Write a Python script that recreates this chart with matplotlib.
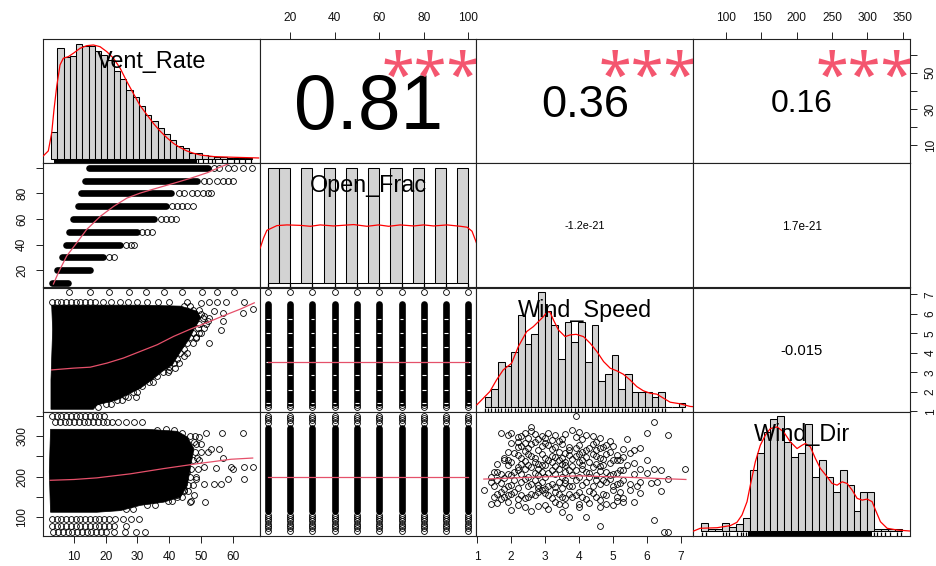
"""Scatterplot matrix (chart.Correlation style): ventilation rate vs. opening and wind."""
import matplotlib
matplotlib.use("Agg")
import matplotlib.pyplot as plt
from matplotlib.textpath import TextPath
from matplotlib.font_manager import FontProperties

plt.rcParams["font.family"] = ["Liberation Sans", "DejaVu Sans"]

# ---------------- data ----------------
var_names = ["Vent_Rate", "Open_Frac", "Wind_Speed", "Wind_Dir"]
var_min = [2.75, 10.0, 1.22, 64.7]
var_max = [66.0, 100.0, 7.12, 349.0]

axis_ticks = [[10, 20, 30, 40, 50, 60], [20, 40, 60, 80, 100],
              [1, 2, 3, 4, 5, 6, 7], [100, 150, 200, 250, 300, 350]]
# labels kept on the vertical (left / right) axes
vert_labels = [["10", "", "30", "", "50", ""], ["20", "40", "60", "80", ""],
               ["1", "2", "3", "4", "5", "6", "7"], ["100", "", "200", "", "300", ""]]

# upper panels: correlation and significance
cor_cells = [(0, 1), (0, 2), (0, 3), (1, 2), (1, 3), (2, 3)]
cor_r = [0.81, 0.36, 0.16, -1.2e-21, 1.7e-21, -0.015]
cor_txt = ["0.81", "0.36", "0.16", "-1.2e-21", "1.7e-21", "-0.015"]
cor_sig = ["***", "***", "***", "", "", ""]

# diagonal: histograms (density relative to the tallest bar)
vr_bins = (2.0, 2.0)
vr_hist = [0.23, 0.96, 0.88, 0.89, 1.00, 0.98, 0.98, 0.94, 0.90, 0.86, 0.76, 0.69, 0.60, 0.54,
           0.46, 0.38, 0.33, 0.27, 0.21, 0.16, 0.11, 0.09, 0.053, 0.047, 0.032, 0.023, 0.018,
           0.010, 0.006, 0.004, 0.003, 0.002]
of_bins = (10.0, 5.0)
of_hist = [1, 1, 0, 1, 0, 1, 0, 1, 0, 1, 0, 1, 0, 1, 0, 1, 0, 1]
ws_bins = (1.2, 0.2)
ws_hist = [0.09, 0.16, 0.39, 0.36, 0.48, 0.80, 0.55, 0.64, 1.00, 0.84, 0.71, 0.42, 0.74, 0.57,
           0.74, 0.39, 0.71, 0.23, 0.29, 0.45, 0.16, 0.29, 0.13, 0.13, 0.13, 0.09, 0.13, 0, 0, 0.035]
wd_bins = (60.0, 10.0)
wd_hist = [0.07, 0.02, 0.02, 0.07, 0.035, 0.064, 0.12, 0.53, 0.68, 0.86, 0.98, 1.0, 0.78, 0.65,
           0.68, 0.93, 0.47, 0.62, 0.47, 0.34, 0.53, 0.40, 0.18, 0.34, 0.34, 0.02, 0.02, 0.02, 0.02]

# kernel density curves
vr_dens_x = [-0.46, 1.13, 2.22, 2.95, 3.81, 4.87, 5.93, 7.53, 9.12, 11.25, 13.39, 15.52, 17.64,
             19.78, 21.91, 24.04, 26.17, 28.29, 30.41, 32.55, 34.66, 36.80, 38.94, 41.04, 43.18,
             45.32, 47.43, 49.57, 53.81, 60.2, 68.2]
vr_dens_y = [0.024, 0.067, 0.225, 0.427, 0.628, 0.815, 0.873, 0.887, 0.916, 0.959, 0.982, 0.988,
             0.973, 0.930, 0.873, 0.786, 0.671, 0.565, 0.461, 0.383, 0.306, 0.239, 0.182, 0.133,
             0.096, 0.067, 0.047, 0.032, 0.018, 0.012, 0.006]
of_dens_x = [6.6, 8.1, 9.6, 11.9, 14.1, 18.6, 24.6, 29.1, 33.5, 39.5, 48.5, 54.5, 59.7, 64.2,
             69.4, 75.4, 79.9, 84.4, 90.4, 96.4, 99.4, 101.6, 103.6]
of_dens_y = [0.303, 0.390, 0.457, 0.478, 0.498, 0.504, 0.500, 0.492, 0.504, 0.495, 0.507, 0.492,
             0.504, 0.492, 0.504, 0.495, 0.504, 0.495, 0.504, 0.492, 0.484, 0.449, 0.347]
ws_dens_x = [0.97, 1.36, 1.56, 1.76, 2.01, 2.21, 2.46, 2.66, 2.81, 2.96, 3.08, 3.16, 3.26, 3.41,
             3.61, 3.76, 3.94, 4.16, 4.36, 4.56, 4.76, 4.96, 5.16, 5.35, 5.55, 5.75, 5.95, 6.15,
             6.35, 6.55, 6.75, 7.05, 7.35, 7.65]
ws_dens_y = [0.020, 0.136, 0.237, 0.324, 0.382, 0.526, 0.657, 0.700, 0.743, 0.787, 0.830, 0.824,
             0.758, 0.671, 0.613, 0.628, 0.633, 0.613, 0.555, 0.483, 0.396, 0.338, 0.315, 0.286,
             0.237, 0.179, 0.142, 0.121, 0.113, 0.078, 0.043, 0.029, 0.006, 0.0]
wd_dens_x = [48.8, 58.5, 82.7, 101.9, 111.6, 118.8, 126.1, 130.9, 138.1, 145.3, 152.5, 159.8,
             169.5, 179.0, 188.7, 198.4, 205.6, 210.4, 217.6, 224.9, 232.1, 241.8, 249.0, 256.3,
             263.5, 270.7, 278.0, 285.2, 292.4, 299.7, 306.9, 311.7, 318.9, 328.6, 343.1, 362.3]
wd_dens_y = [0.003, 0.027, 0.032, 0.05, 0.079, 0.142, 0.258, 0.402, 0.605, 0.749, 0.836, 0.894,
             0.908, 0.865, 0.778, 0.720, 0.749, 0.764, 0.735, 0.634, 0.547, 0.475, 0.417, 0.402,
             0.431, 0.417, 0.359, 0.287, 0.272, 0.281, 0.258, 0.186, 0.084, 0.027, 0.012, 0.003]

# rugs: solid runs (lo, hi) and single ticks
vr_rug_runs = [(2.8, 48.6)]
vr_rug = [49.0, 50.6, 52.2, 53.3, 54.4, 56.5, 58.1, 60.2, 61.8, 63.9, 65.9]
of_rug_runs = []
of_rug = [10, 20, 30, 40, 50, 60, 70, 80, 90, 100]
ws_rug_runs = []
ws_rug = [1.2, 1.3, 1.4, 1.5, 1.6, 1.7, 1.8, 1.9, 2.0, 2.1, 2.2, 2.3, 2.4, 2.5, 2.6, 2.7, 2.8,
          2.9, 3.0, 3.1, 3.2, 3.3, 3.4, 3.5, 3.6, 3.7, 3.8, 3.9, 4.0, 4.1, 4.2, 4.3, 4.4, 4.5,
          4.6, 4.7, 4.8, 4.9, 5.0, 5.1, 5.2, 5.3, 5.4, 5.5, 5.6, 5.7, 5.8, 5.9, 6.0, 6.1, 6.2,
          6.3, 6.4, 6.5, 6.6, 7.1]
wd_rug_runs = [(128, 306)]
wd_rug = [61, 67, 92, 96, 100, 112, 117, 121, 125, 309, 314, 320, 325, 333, 343, 349]

# lower panel (2,1): Open_Frac levels, solid run of Vent_Rate, sparse outliers
of_levels = [10, 20, 30, 40, 50, 60, 70, 80, 90, 100]
band_lo = [2.95, 4.5, 6.1, 7.5, 8.5, 9.8, 11.1, 12.1, 13.3, 14.6]
band_hi = [8.0, 15.1, 19.1, 24.6, 29.9, 35.2, 38.9, 40.7, 48.9, 52.1]
band_out = [[], [], [21.1, 22.5], [26.5, 28.0, 29.0], [31.5, 33.0, 34.6],
            [37.5, 39.1, 40.7, 42.0], [41.0, 42.3, 44.1, 45.7, 47.6],
            [43.1, 44.7, 47.3, 48.9, 50.5, 52.1, 53.3],
            [51.0, 52.6, 55.0, 56.8, 58.4, 60.0],
            [54.2, 55.7, 58.4, 60.5, 63.1, 66.0]]
smooth21_x = [3.5, 5.1, 7.7, 10.9, 14.0, 18.3, 22.5, 26.7, 30.9, 36.2, 41.5, 46.8, 52.1, 56.3, 60.5]
smooth21_y = [9.1, 18.2, 31.1, 41.5, 51.8, 62.1, 69.9, 76.4, 80.3, 84.2, 88.0, 91.9, 96.3, 100.9, 104.8]

# lower panel (3,1): dense cloud outline, top row, points around its edge
cloud31_x = [2.95, 17.2, 30.9, 43.6, 48.8, 49.9, 47.8, 46.2, 44.7, 42.6, 41.0, 37.8, 34.6, 30.9,
             26.7, 23.5, 17.2, 16.1, 2.73, 2.73, 3.26]
cloud31_y = [6.45, 6.45, 6.45, 6.40, 6.14, 5.80, 5.20, 4.68, 4.34, 3.82, 3.39, 3.05, 2.62, 2.19,
             1.85, 1.59, 1.33, 1.11, 1.11, 2.62, 5.20]
row31_ws = 6.6
row31_vr = [3.0, 4.5, 6.0, 7.5, 9.0, 10.5, 12.0, 13.5, 15.0, 16.5, 19.0, 21.5, 24.5, 27.0,
            30.0, 33.0, 36.5, 40.0]
pts31_x = [8.5, 14.9, 21.0, 27.2, 32.6, 38.3, 44.1, 50.3, 54.9, 60.3,
           45.7, 49.9, 52.6, 55.2, 57.9, 63.7, 66.3, 63.2, 56.8, 54.2, 56.8, 56.3, 52.1, 51.0,
           52.6, 49.9, 48.4, 44.7, 41.8, 39.9, 29.4, 26.9,
           44.5, 46.5, 47.5, 49.5, 50.0, 50.5, 52.5, 49.5, 51.5, 49.0, 51.0, 47.5, 49.5, 46.5,
           48.5, 45.5, 47.5, 44.5, 43.5, 45.5, 42.5, 41.5, 43.0, 40.0, 38.0, 39.5, 36.0, 33.5,
           35.0, 31.5, 28.5, 30.0, 26.0, 23.5, 25.0, 20.0, 21.5, 17.5]
pts31_y = [7.1, 7.1, 7.1, 7.1, 7.1, 7.1, 7.1, 7.1, 7.1, 7.1,
           6.60, 6.54, 6.60, 6.60, 6.60, 6.60, 6.23, 6.05, 6.05, 6.14, 5.63, 5.20, 5.63, 5.88,
           4.51, 5.02, 4.77, 3.82, 3.22, 3.13, 1.73, 1.73,
           6.4, 6.4, 6.2, 6.2, 6.0, 5.8, 5.8, 5.5, 5.5, 5.3, 5.3, 5.0, 5.0, 4.8,
           4.8, 4.5, 4.5, 4.2, 4.0, 4.0, 3.7, 3.5, 3.5, 3.3, 3.0, 3.0, 2.8, 2.5,
           2.5, 2.3, 2.0, 2.0, 1.8, 1.6, 1.6, 1.4, 1.4, 1.25]
smooth31_x = [2.95, 9.8, 15.1, 20.4, 25.6, 30.9, 36.2, 41.4, 46.8, 52.1, 57.3, 62.6, 66.8]
smooth31_y = [3.13, 3.22, 3.27, 3.48, 3.74, 4.08, 4.42, 4.85, 5.23, 5.57, 5.92, 6.26, 6.57]

# lower panel (4,1): dense cloud outline, rows of points, isolated points
cloud41_x = [2.6, 33.0, 42.6, 45.7, 47.8, 46.8, 45.7, 43.6, 38.3, 30.9, 24.6, 17.2, 2.6, 2.2]
cloud41_y = [317, 317, 312, 298, 269, 228, 178, 150, 137, 129, 116, 112, 112, 212]
row41_wd = [350, 336, 96, 78, 63]
row41_vr = [[3.0, 4.5, 6.0, 7.5, 9.0, 10.5, 12.0, 13.5, 15.0, 16.5, 18.0, 19.5],
            [4.0, 5.5, 7.0, 8.5, 10.0, 11.5, 13.0, 14.5, 16.0, 17.5, 19.0, 20.5, 22.0, 24.0,
             26.5, 29.0, 31.5],
            [3.0, 4.5, 6.0, 7.5, 9.0, 10.5, 12.0, 13.5, 15.0, 16.5, 18.0, 19.5, 21.0, 23.0,
             25.5, 28.0, 30.5],
            [3.0, 4.5, 6.0, 7.5, 9.0, 10.5, 12.0, 13.5, 15.0, 16.5, 18.0, 19.5, 21.0, 22.5, 26.5],
            [3.5, 5.0, 6.5, 8.0, 9.5, 11.0, 12.5, 14.0, 15.5, 17.0, 18.5, 20.0, 22.5, 26.0,
             29.5, 32.5]]
pts41_x = [51.5, 56.5, 63.1, 55.8, 53.1, 52.1, 56.8, 51.0, 54.7, 59.5, 63.7, 66.3, 60.0, 58.4,
           63.7, 56.3, 51.0, 47.8, 46.6, 51.2, 44.7, 42.6, 39.4, 48.4, 45.7, 48.9, 44.1, 47.8,
           49.4, 44.1, 41.5, 38.9, 36.2, 54.2, 47.0,
           46.5, 48.0, 48.5, 50.0, 48.0, 50.0, 47.5, 49.5, 47.0, 49.0, 46.5, 48.5, 46.0, 47.5,
           44.5, 46.0, 42.5, 44.0, 39.5, 41.0, 33.0, 35.5, 26.5, 28.5]
pts41_y = [307, 307, 307, 269, 269, 261, 245, 224, 221, 224, 224, 224, 220, 195,
           195, 183, 183, 154, 137, 137, 166, 154, 174, 195, 212, 245, 261, 286,
           298, 309, 315, 317, 315, 183, 139,
           300, 300, 280, 280, 260, 260, 240, 240, 220, 220, 200, 200, 180, 180,
           165, 165, 150, 150, 140, 140, 130, 130, 120, 120]
smooth41_x = [2.5, 10.0, 17.2, 27.8, 38.3, 48.9, 59.5, 66.3]
smooth41_y = [191, 193, 197, 207, 220, 232, 243, 246]

# lower panels (3,2) and (4,2): one column of points per Open_Frac level
col32_run = (1.45, 6.5)
col32_pts = [7.1, 1.33, 1.22]
col32_gaps = [5.76, 5.03, 4.30, 3.56, 2.87, 2.10, 1.42]
smooth32 = 3.53
col42_run = (116, 319)
col42_pts = [349, 345, 339, 333, 104, 100, 96, 90, 84, 78, 72, 66]
smooth42 = 199

# lower panel (4,3): Wind_Speed vs Wind_Dir
pts43_ws = [3.9, 6.2, 2.6, 1.7, 2.0, 1.9, 2.4, 2.6, 2.9, 3.1, 3.2, 3.4, 3.8, 3.9, 4.2, 4.4, 4.5,
            4.8, 5.0, 5.4, 6.0, 6.6,
            2.2, 2.2, 2.2, 2.4, 2.7, 3.0, 3.1, 3.3, 3.7, 3.7, 4.2, 4.5, 4.7, 4.8, 5.1, 5.2, 5.6, 5.8,
            1.8, 1.8, 1.9, 2.2, 2.5, 2.7, 2.8, 3.1, 3.3, 3.5, 3.7, 4.0, 4.0, 4.2, 4.3, 4.6, 5.0,
            5.1, 5.6,
            1.5, 1.6, 1.7, 1.9, 2.2, 2.2, 2.4, 2.5, 2.8, 2.9, 2.9, 3.2, 3.4, 3.6, 3.7, 3.9, 4.1,
            4.2, 4.4, 4.7, 4.8, 5.0, 5.2, 5.3, 5.8, 6.2, 6.4, 7.1,
            1.2, 1.4, 1.6, 1.7, 1.8, 1.9, 2.1, 2.3, 2.4, 2.6, 2.7, 2.9, 3.0, 3.1, 3.3, 3.4, 3.6,
            3.7, 3.9, 4.2, 4.3, 4.5, 4.7, 4.8, 4.9, 5.1, 5.3, 5.5, 5.8, 6.6, 6.3,
            1.5, 1.6, 1.7, 1.7, 1.9, 2.0, 2.2, 2.3, 2.5, 2.6, 2.8, 2.9, 3.1, 3.3, 3.5, 3.7, 3.8,
            4.0, 4.2, 4.4, 4.5, 4.6, 4.8, 5.0, 5.1, 5.2, 5.5,
            1.4, 1.9, 2.4, 2.6, 3.0, 3.1, 3.4, 3.7, 4.2, 4.6, 3.3, 4.0, 4.0, 4.8, 5.1, 5.3, 5.6,
            6.4, 6.2, 6.5, 6.6,
            2.3, 2.5, 2.7, 2.8, 3.0, 3.3, 3.5, 3.6, 4.0, 4.1, 4.6, 4.9,
            2.0, 2.3, 2.5, 2.6, 2.8, 2.9, 3.2, 3.4, 3.5, 3.9, 4.0, 4.1, 4.3, 4.4, 4.6, 4.9, 5.3,
            1.9, 2.1, 2.3, 2.4, 2.6, 2.9, 3.0, 3.2, 3.4, 3.6, 3.8, 3.9, 4.1, 4.4, 4.5, 4.7, 5.3, 5.5,
            1.6, 1.9, 2.0, 2.3, 2.4, 2.6, 2.7, 3.0, 3.2, 3.3, 3.5, 3.6, 3.8, 4.1, 4.5, 4.6, 4.9,
            5.4, 6.0,
            1.4, 1.8, 2.0, 2.1, 2.3, 2.5, 2.7, 2.8, 3.0, 3.1, 3.3, 3.5, 3.6, 3.8, 4.0, 4.3, 4.5,
            4.6, 4.9, 5.1, 5.6, 6.0,
            1.5, 2.0, 2.2, 2.5, 2.8, 2.8, 3.2, 3.5, 3.6, 3.8, 4.1, 4.4, 4.6, 5.0, 5.2, 5.7, 6.1,
            1.8, 2.1, 2.4, 2.7, 3.0, 3.2, 3.4, 3.6, 3.9, 4.1, 4.3, 4.7, 5.3, 5.8,
            1.6, 2.2, 2.8, 3.6, 4.3, 4.6, 5.0, 2.0, 3.5]
pts43_wd = [350, 335, 323, 308, 308, 302, 307, 313, 300, 307, 290, 288, 316, 298, 304, 300, 286,
            279, 275, 292, 307, 304,
            298, 286, 274, 282, 286, 282, 278, 274, 274, 265, 265, 265, 274, 257, 253, 240, 267, 271,
            245, 240, 240, 253, 257, 245, 232, 240, 249, 245, 253, 257, 236, 249, 236, 245, 240,
            240, 234,
            211, 211, 206, 207, 224, 216, 220, 228, 220, 211, 228, 216, 220, 228, 216, 216, 220,
            211, 224, 228, 211, 207, 216, 217, 220, 220, 216, 220,
            168, 187, 191, 184, 170, 178, 192, 187, 195, 182, 191, 187, 170, 178, 174, 187, 191,
            178, 191, 187, 199, 191, 192, 187, 195, 182, 191, 182, 187, 195, 187,
            150, 158, 162, 144, 154, 158, 145, 154, 150, 158, 162, 166, 154, 162, 150, 158, 150,
            162, 145, 159, 150, 143, 154, 166, 150, 162, 166,
            133, 137, 125, 116, 129, 120, 133, 100, 100, 77, 137, 133, 125, 133, 141, 137, 137,
            164, 93, 64, 64,
            300, 296, 305, 292, 296, 302, 294, 305, 310, 292, 296, 288,
            284, 276, 270, 280, 266, 276, 268, 262, 280, 270, 279, 262, 272, 281, 270, 262, 268,
            262, 258, 246, 264, 250, 256, 246, 252, 240, 258, 244, 250, 242, 256, 250, 244, 249, 258,
            232, 228, 236, 232, 238, 224, 236, 230, 236, 226, 232, 236, 226, 230, 232, 226, 233,
            228, 240,
            200, 196, 204, 212, 206, 200, 210, 204, 200, 210, 206, 198, 212, 204, 198, 208, 204,
            214, 203, 208, 206, 210,
            176, 180, 172, 176, 180, 172, 182, 172, 184, 176, 180, 176, 182, 176, 184, 176, 184,
            150, 162, 146, 154, 160, 146, 156, 146, 154, 150, 164, 158, 146, 160,
            136, 130, 128, 130, 136, 124, 130, 118, 112]
smooth43_x = [1.2, 2.75, 4.02, 5.2, 6.18, 7.14]
smooth43_y = [194, 199, 202, 199, 196, 193]

# ---------------- layout ----------------
FIG_W, FIG_H = 936, 566
LEFT, TOP, PW, PH = 43, 39, 216.75, 124.25
STAR_INK_H, STAR_ASPECT = 26.7, 3.4      # ink height (px) and width/height of "***"
SMOOTH_COL = "#E5506A"
STAR_COL = "#F4566F"
PT_KW = dict(linestyle="none", marker="o", ms=4.2, mfc="none", mec="black", mew=0.6)

fig = plt.figure(figsize=(FIG_W / 100, FIG_H / 100), dpi=100)
renderer = fig.canvas.get_renderer()


def rng(k):
    pad = 0.04 * (var_max[k] - var_min[k])
    return var_min[k] - pad, var_max[k] + pad


def text_width(s, size):
    t = fig.text(0, 0, s, fontsize=size)
    w = t.get_window_extent(renderer).width
    t.remove()
    return w


def ink_box(s, family):
    return TextPath((0, 0), s, size=1, prop=FontProperties(family=family)).get_extents()


def centered_text(ax, x, y, s, size, ink_mid, **kw):
    # place so that the middle of the glyphs (not the line box) sits at (x, y)
    ax.annotate(s, xy=(x, y), xycoords="axes fraction", xytext=(0, -ink_mid * size),
                textcoords="offset points", ha="center", va="baseline", fontsize=size,
                annotation_clip=False, clip_on=True, **kw)


def hist_panel(ax, bins, heights, dx, dy, runs, rug, label):
    start, width = bins
    edges = [start + width * k for k in range(len(heights) + 1)]
    ax.bar(edges[:-1], heights, width=width, align="edge", color="#D3D3D3",
           edgecolor="black", linewidth=0.75, zorder=2)
    pad = 0.04 * (edges[-1] - edges[0])
    ax.set_xlim(edges[0] - pad, edges[-1] + pad)
    ax.set_ylim(-0.04, 1.04)
    ax.plot(dx, dy, color="red", lw=0.9, zorder=3)
    tr = ax.get_xaxis_transform()
    for lo, hi in runs:
        ax.fill_between([lo, hi], [0, 0], [0.033, 0.033], transform=tr, color="black", lw=0, zorder=3)
    ax.vlines(rug, 0, 0.033, transform=tr, color="black", lw=0.9, zorder=3)
    centered_text(ax, 0.5, 0.833, label, 16.8, 0.36, zorder=5)


axes = [[None] * 4 for _ in range(4)]
for i in range(4):
    for j in range(4):
        ax = fig.add_axes([(LEFT + j * PW) / FIG_W, 1 - (TOP + (i + 1) * PH) / FIG_H,
                           PW / FIG_W, PH / FIG_H])
        for sp in ax.spines.values():
            sp.set_linewidth(0.8)
            sp.set_color("#222222")
        ax.tick_params(bottom=False, left=False, labelbottom=False, labelleft=False)
        if i != j:
            ax.set_xlim(*rng(j))
            ax.set_ylim(*rng(i))
        axes[i][j] = ax

tick_kw = dict(length=5.2, width=0.7, color="#222222", labelsize=8.6, labelcolor="#111111", pad=5.5)
for j in (1, 3):
    ax = axes[0][j]
    ax.tick_params(axis="x", top=True, labeltop=True, **tick_kw)
    ax.set_xticks(axis_ticks[j])
for j in (0, 2):
    ax = axes[3][j]
    ax.tick_params(axis="x", bottom=True, labelbottom=True, **tick_kw)
    ax.set_xticks(axis_ticks[j])
for i in (1, 3):
    ax = axes[i][0]
    ax.tick_params(axis="y", left=True, labelleft=True, labelrotation=90, **tick_kw)
    ax.set_yticks(axis_ticks[i], vert_labels[i], va="center")
for i in (0, 2):
    ax = axes[i][3]
    ax.tick_params(axis="y", right=True, labelright=True, labelrotation=90, **tick_kw)
    ax.set_yticks(axis_ticks[i], vert_labels[i], va="center")

# diagonal
hist_panel(axes[0][0], vr_bins, vr_hist, vr_dens_x, vr_dens_y, vr_rug_runs, vr_rug, var_names[0])
hist_panel(axes[1][1], of_bins, of_hist, of_dens_x, of_dens_y, of_rug_runs, of_rug, var_names[1])
hist_panel(axes[2][2], ws_bins, ws_hist, ws_dens_x, ws_dens_y, ws_rug_runs, ws_rug, var_names[2])
hist_panel(axes[3][3], wd_bins, wd_hist, wd_dens_x, wd_dens_y, wd_rug_runs, wd_rug, var_names[3])

# significance stars: pick the installed face whose "***" has the reference proportions
star_fonts = ["Liberation Sans", "DejaVu Sans", "Noto Sans", "Roboto", "Open Sans", "Lato"]
star_font = min(star_fonts, key=lambda f: abs(ink_box("***", f).width / ink_box("***", f).height
                                              - STAR_ASPECT))
star_ink = ink_box("***", star_font)
star_size = STAR_INK_H * 0.72 / star_ink.height
star_mid = (star_ink.y0 + star_ink.y1) / 2

# upper: correlation text sized like PerformanceAnalytics (cex = 0.8 / strwidth)
for (i, j), r, txt, sig in zip(cor_cells, cor_r, cor_txt, cor_sig):
    ax = axes[i][j]
    cex_size = 10 * 0.8 * PW / text_width(txt, 10)
    centered_text(ax, 0.5, 0.5, txt, cex_size * (abs(r) + 0.3) / 1.3, 0.358, color="black")
    if sig:
        centered_text(ax, 0.79, 0.8, sig, star_size, star_mid, color=STAR_COL, family=star_font)

# lower (2,1)
ax = axes[1][0]
for lev, lo, hi, out in zip(of_levels, band_lo, band_hi, band_out):
    ax.plot([lo, hi], [lev, lev], color="black", lw=4.8, solid_capstyle="round")
    ax.plot(out, [lev] * len(out), **PT_KW)
ax.plot(smooth21_x, smooth21_y, color=SMOOTH_COL, lw=0.9)

# lower (3,1)
ax = axes[2][0]
ax.fill(cloud31_x, cloud31_y, color="black", lw=0.5)
ax.plot(row31_vr, [row31_ws] * len(row31_vr), **PT_KW)
ax.plot(pts31_x, pts31_y, **PT_KW)
ax.plot(smooth31_x, smooth31_y, color=SMOOTH_COL, lw=0.9)

# lower (4,1)
ax = axes[3][0]
ax.fill(cloud41_x, cloud41_y, color="black", lw=0.5)
for wd, vrs in zip(row41_wd, row41_vr):
    ax.plot(vrs, [wd] * len(vrs), **PT_KW)
ax.plot(pts41_x, pts41_y, **PT_KW)
ax.plot(smooth41_x, smooth41_y, color=SMOOTH_COL, lw=0.9)

# lower (3,2) and (4,2)
for ax, run, pts, gaps, sm in ((axes[2][1], col32_run, col32_pts, col32_gaps, smooth32),
                               (axes[3][1], col42_run, col42_pts, [], smooth42)):
    for lev in of_levels:
        ax.plot([lev, lev], run, color="black", lw=4.8, solid_capstyle="round")
        ax.plot([lev] * len(pts), pts, **PT_KW)
        if gaps:
            ax.hlines(gaps, lev - 0.8, lev + 0.8, color="white", lw=0.8)
    ax.plot([of_levels[0], of_levels[-1]], [sm, sm], color=SMOOTH_COL, lw=0.9)

# lower (4,3)
ax = axes[3][2]
ax.plot(pts43_ws, pts43_wd, **PT_KW)
ax.plot(smooth43_x, smooth43_y, color=SMOOTH_COL, lw=0.9)

fig.savefig("out.png", dpi=100, facecolor="white")
